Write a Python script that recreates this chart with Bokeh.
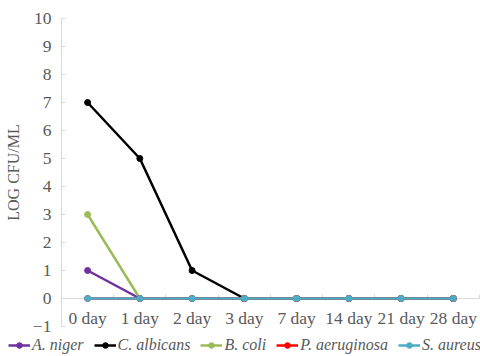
from bokeh.plotting import figure
from bokeh.models import Range1d, FixedTicker, Legend, LegendItem
from bokeh.embed import file_html
from bokeh.resources import INLINE

days = ["0 day", "1 day", "2 day", "3 day", "7 day", "14 day", "21 day", "28 day"]
a_niger = [1, 0, 0, 0, 0, 0, 0, 0]
c_albicans = [7, 5, 1, 0, 0, 0, 0, 0]
b_coli = [3, 0, 0, 0, 0, 0, 0, 0]
p_aeruginosa = [0, 0, 0, 0, 0, 0, 0, 0]
s_aureus = [0, 0, 0, 0, 0, 0, 0, 0]

series = [
    ("A. niger", a_niger, "#7030A0"),
    ("C. albicans", c_albicans, "#000000"),
    ("B. coli", b_coli, "#9BBB59"),
    ("P. aeruginosa", p_aeruginosa, "#FF0000"),
    ("S. aureus", s_aureus, "#4BACC6"),
]
y_ticks = list(range(-1, 11))

FONT = "Liberation Serif"
GREY = "#595959"
AXIS = "#D9D9D9"

x = list(range(len(days)))
x_lo, x_hi = -0.5, len(days) - 0.5

# The plot area fills the whole canvas; both axes are pinned inside it so
# the legend row can span the full width underneath.
p = figure(width=480, height=356, output_backend="svg", toolbar_location=None,
           x_range=Range1d(-1.667, 7.52), y_range=Range1d(-2.071, 10.643),
           min_border=0)
p.outline_line_color = None
p.grid.visible = False
p.background_fill_color = "white"
p.border_fill_color = "white"

# category axis on the zero line, beneath the series
p.xaxis.fixed_location = 0
p.xaxis.bounds = (x_lo, x_hi)
p.xaxis.level = "underlay"
p.xaxis.ticker = FixedTicker(ticks=x, minor_ticks=[i - 0.5 for i in range(len(days) + 1)])
p.xaxis.major_label_overrides = {i: d for i, d in enumerate(days)}
p.xaxis.axis_line_color = AXIS
p.xaxis.axis_line_width = 1
p.xaxis.major_tick_line_color = None
p.xaxis.minor_tick_line_color = AXIS
p.xaxis.minor_tick_in = 4
p.xaxis.minor_tick_out = 0
p.xaxis.major_label_text_font = FONT
p.xaxis.major_label_text_font_size = "17.5px"
p.xaxis.major_label_text_font_style = "normal"
p.xaxis.major_label_text_color = GREY
p.xaxis.major_label_standoff = 3

p.yaxis.fixed_location = x_lo
p.yaxis.bounds = (y_ticks[0], y_ticks[-1])
p.yaxis.level = "underlay"
p.yaxis.ticker = FixedTicker(ticks=y_ticks, minor_ticks=[])
p.yaxis.major_label_overrides = {-1: "\u22121"}
p.yaxis.axis_line_color = AXIS
p.yaxis.major_tick_line_color = AXIS
p.yaxis.major_tick_in = 4
p.yaxis.major_tick_out = 0
p.yaxis.minor_tick_line_color = None
p.yaxis.major_label_text_font = FONT
p.yaxis.major_label_text_font_size = "17.5px"
p.yaxis.major_label_text_font_style = "normal"
p.yaxis.major_label_text_color = GREY
p.yaxis.major_label_standoff = 10
p.yaxis.axis_label = "LOG CFU/ML"
p.yaxis.axis_label_text_font = FONT
p.yaxis.axis_label_text_font_style = "normal"
p.yaxis.axis_label_text_font_size = "16px"
p.yaxis.axis_label_text_color = GREY
p.yaxis.axis_label_standoff = 8

items = []
for name, vals, color in series:
    r1 = p.line(x, vals, line_color=color, line_width=2.5)
    r2 = p.scatter(x, vals, size=6, fill_color=color, line_color=color)
    items.append(LegendItem(label=name, renderers=[r1, r2]))

legend = Legend(items=items, orientation="horizontal", location=(8, 2),
                label_text_font=FONT, label_text_font_style="italic",
                label_text_font_size="16px", label_text_color=GREY,
                glyph_width=22, glyph_height=14, label_standoff=2, spacing=10,
                padding=0, margin=0, border_line_color=None,
                background_fill_alpha=0)
p.add_layout(legend, "center")

open("out.html", "w").write(file_html(p, INLINE))
